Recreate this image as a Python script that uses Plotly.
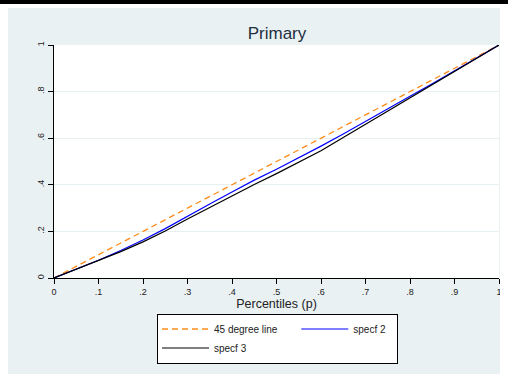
import plotly.graph_objects as go

# Data
p = [0, .05, .1, .15, .2, .25, .3, .35, .4, .45, .5, .55, .6, .65, .7, .75, .8, .85, .9, .95, 1]
deg45 = [0, 1]
specf2 = [0, .038, .076, .118, .163, .212, .266, .318, .369, .42, .467, .516, .566, .618,
          .671, .724, .78, .834, .89, .945, 1]
specf3 = [0, .037, .074, .113, .155, .202, .253, .303, .352, .401, .448, .496, .546, .603,
          .66, .718, .775, .832, .888, .944, 1]

x_ticks = [0, .1, .2, .3, .4, .5, .6, .7, .8, .9, 1]
x_labels = ["0", ".1", ".2", ".3", ".4", ".5", ".6", ".7", ".8", ".9", "1"]
y_ticks = [0, .2, .4, .6, .8, 1]
y_labels = ["0", ".2", ".4", ".6", ".8", "1"]

# The page body has an 8px margin, so the figure starts at (8, 8)
W, H = 500, 366
L, R, T, B = 46, 9, 37, 95.5

BG = "#EAF1F3"
FONT = "Liberation Sans, Arial, sans-serif"
PAD = "\u00a0" * 5
PAD2 = "\u00a0" * 2

fig = go.Figure()
fig.add_trace(go.Scatter(x=deg45, y=deg45, mode="lines", name="45 degree line" + PAD,
                         legendgroup="a",
                         line=dict(color="#FF8C1A", width=1.3, dash="6px,4px")))
fig.add_trace(go.Scatter(x=p, y=specf2, mode="lines", name="specf 2" + PAD2, legendgroup="b",
                         line=dict(color="#0000FF", width=1.2)))
fig.add_trace(go.Scatter(x=p, y=specf3, mode="lines", name="specf 3", legendgroup="a",
                         line=dict(color="#000000", width=1.2)))

fig.update_layout(
    width=W, height=H,
    margin=dict(l=L, r=R, t=T, b=B, pad=0, autoexpand=False),
    paper_bgcolor=BG, plot_bgcolor="white",
    font=dict(family=FONT, color="#222222", size=9),
    title=dict(text="Primary", x=269 / W, xref="container", xanchor="center",
               y=1 - 25 / H, yref="container", yanchor="middle",
               font=dict(size=17, color="#1E2F40", family=FONT)),
    showlegend=True,
    legend=dict(orientation="h", x=149 / W, xref="container", xanchor="left",
                y=1 - 305.5 / H, yref="container", yanchor="top",
                bgcolor="white", bordercolor="black", borderwidth=1,
                font=dict(size=10, family=FONT, color="#222222"),
                itemwidth=47, traceorder="grouped", tracegroupgap=0),
)

fig.update_xaxes(range=[0, 1], tickvals=x_ticks, ticktext=x_labels,
                 showgrid=False, zeroline=False, automargin=False,
                 showline=True, linecolor="black", linewidth=1,
                 ticks="outside", ticklen=5, tickcolor="black", tickwidth=1,
                 ticklabeloverflow="allow",
                 tickfont=dict(size=9, color="#1a1a1a"),
                 title=dict(text="Percentiles (p)", font=dict(size=12.5, color="#222222"), standoff=2))
fig.update_yaxes(range=[0, 1], tickvals=y_ticks, ticktext=y_labels,
                 showgrid=True, gridcolor="#E6EFF1", gridwidth=1, zeroline=False, automargin=False,
                 showline=True, linecolor="black", linewidth=1,
                 ticks="outside", ticklen=5, tickcolor="black", tickwidth=1,
                 ticklabeloverflow="allow",
                 tickangle=-90, tickfont=dict(size=9, color="#1a1a1a"))

top_bar = ("document.body.style.overflow='hidden';"
           "var d=document.createElement('div');"
           "d.style.cssText='position:fixed;left:0;top:0;width:100%;height:4px;background:#000;z-index:10';"
           "document.body.appendChild(d);")
fig.write_html("out.html", post_script=top_bar)
